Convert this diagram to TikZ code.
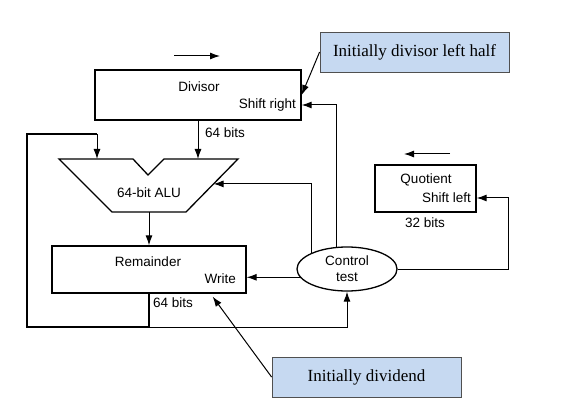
\documentclass[tikz,border=0pt]{standalone}
\usepackage{fontspec}
\setmainfont{Liberation Serif}
\setsansfont{Liberation Sans}
\usetikzlibrary{shapes.geometric,arrows.meta,positioning,calc}
\definecolor{notefill}{RGB}{198,217,241}
\definecolor{noteline}{RGB}{80,80,80}
\tikzset{
  regbox/.style={rectangle, draw, line width=1.3pt, inner sep=0pt},
  lbl/.style={font=\sffamily\fontsize{13.5}{16}\selectfont, inner sep=0pt},
  note/.style={rectangle, draw=noteline, fill=notefill, line width=0.8pt,
               minimum width=189pt, minimum height=40pt,
               font=\fontsize{17}{20}\selectfont},
  arr/.style={-{Latex[length=10pt,width=7pt]}, line width=1pt},
  bus/.style={line width=2.4pt},
}

\begin{document}
\begin{tikzpicture}[x=1pt, y=-1pt]
    \useasboundingbox (0,0) rectangle (569,419);
    % divisor register
    \node[regbox, minimum width=206pt, minimum height=50pt] (div) at (198,95) {};
    \node[lbl] (divname) at (199,87) {Divisor};
    \node[lbl, anchor=east] (divsh) at (296,105) {Shift right};
    \node[lbl, anchor=west] (divbits) at (205,133) {64 bits};
    \coordinate (dsa) at (174,56); \coordinate (dsb) at (220,56);
    \draw[arr] (dsa) -- (dsb);
    % ALU
    \coordinate (atl) at (59,159);  \coordinate (an1) at (133,159);
    \coordinate (anotch) at (148,175); \coordinate (an2) at (164,159);
    \coordinate (atr) at (238,159); \coordinate (abr) at (186,212);
    \coordinate (abl) at (112,212); \coordinate (aout) at (149,212);
    \coordinate (ain1) at (97,159);
    \coordinate (aluin) at ($(atr)!0.47!(abr)$);
    \draw[line width=1.3pt] (atl) -- (an1) -- (anotch) -- (an2) -- (atr) -- (abr) -- (abl) -- cycle;
    \node[lbl] (alu) at (149,193) {64-bit ALU};
    % remainder register
    \node[regbox, minimum width=194pt, minimum height=47pt] (rem) at (149,269.5) {};
    \node[lbl] (remname) at (148,262) {Remainder};
    \node[lbl, anchor=east] (remwr) at (236,279) {Write};
    \node[lbl, anchor=west] (rembits) at (153,303) {64 bits};
    % control
    \node[ellipse, draw, line width=1.3pt, minimum width=100pt, minimum height=44pt,
          lbl, align=center] (ctrl) at (347,269) {Control\\test};
    % quotient register
    \node[regbox, minimum width=101pt, minimum height=47pt] (quo) at (425.5,188.5) {};
    \node[lbl] (quoname) at (426,180) {Quotient};
    \node[lbl, anchor=east] (quosh) at (471,198) {Shift left};
    \node[lbl] (quobits) at (425,223) {32 bits};
    \coordinate (qsa) at (450,154); \coordinate (qsb) at (404,154);
    \draw[arr] (qsa) -- (qsb);
    % notes
    \node[note] (note1) at (414.5,52) {Initially divisor left half};
    \node[note] (note2) at (366.5,377) {Initially dividend};

    % datapath
    \coordinate (bot) at (0,327);
    \coordinate (jn) at (rem.south |- bot);
    \coordinate (lcorner) at (27,134);
    \draw[arr] (div.south) -- (div.south |- atr);
    \draw[arr] (aout) -- (rem.north);
    \draw[line width=1.3pt] (rem.south) -- (jn);
    \draw[bus] (jn) -| (lcorner) -- (lcorner -| ain1);
    \draw[arr] (lcorner -| ain1) -- (ain1);
    \draw[arr] (jn) -| (ctrl.south);
    % control lines
    \draw[arr] (ctrl.190) -- (ctrl.190 -| rem.east);
    \draw[arr] (ctrl.155) |- (aluin);
    \draw[arr] (ctrl.115) |- (div.east |- divsh);
    \draw[arr] (ctrl.east) -| ($(quo.east |- quosh)+(32,0)$) -- (quo.east |- quosh);
    % note pointers
    \draw[arr] (note1.west) -- (div.east);
    \draw[arr] (note2.west) -- ($(rem.south east)+(-34,3)$);
\end{tikzpicture}
\end{document}
